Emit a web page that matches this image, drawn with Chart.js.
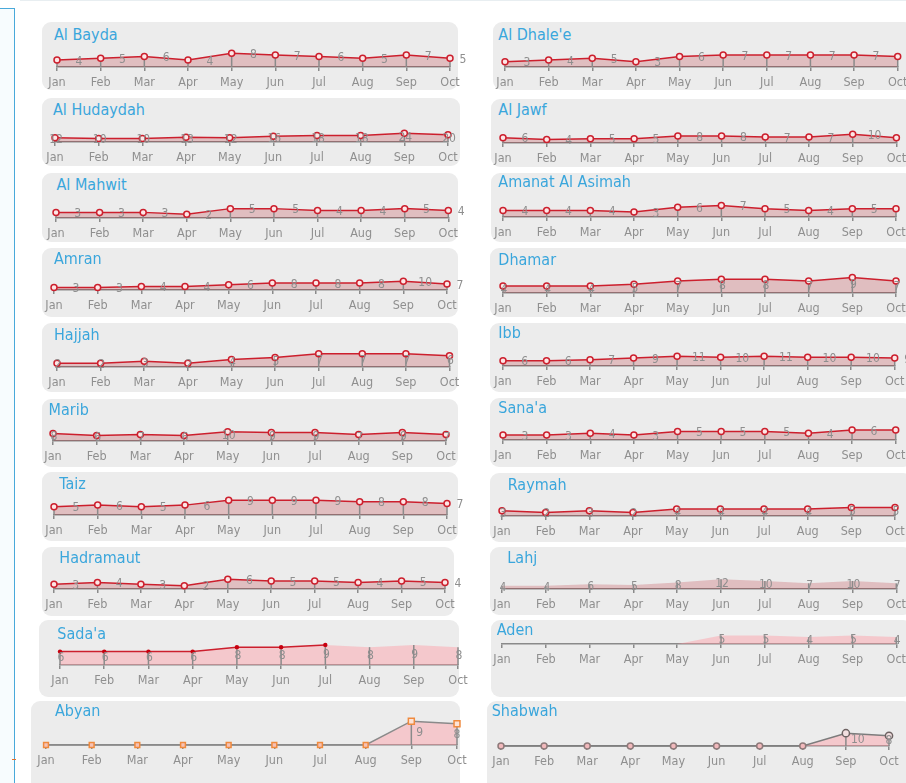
<!DOCTYPE html>
<html>
<head>
<meta charset="utf-8">
<script src="https://cdn.jsdelivr.net/npm/chart.js@4.4.1/dist/chart.umd.min.js"></script>
<style>
  html, body { margin: 0; padding: 0; background: #fff; width: 906px; height: 783px; overflow: hidden; }
  body { position: relative; font-family: 'DejaVu Sans Condensed', 'Liberation Sans Narrow', sans-serif; }
  .panel { position: absolute; background: #ececec; border-radius: 9px; }
  .title { position: absolute; color: #3aa6dc; font-size: 16px; line-height: 16px; white-space: nowrap; }
  canvas { position: absolute; }
  #side { position: absolute; left: -1px; top: 8px; width: 15px; height: 800px; background: #f7fcfe; border-top: 1px solid #49a9da; border-right: 1px solid #49a9da; }
  #topline { position: absolute; left: 20px; right: 0; top: 0; height: 1px; background: #e8eef1; }
  #mark { position: absolute; left: 12px; top: 759px; width: 4px; height: 1px; background: #e0702e; }
</style>
</head>
<body>
<div id="side"></div>
<div id="topline"></div>
<div id="mark"></div>
<script>
const FONT = "'DejaVu Sans Condensed', 'Liberation Sans Narrow', sans-serif";

// months on every panel
const months = ['Jan', 'Feb', 'Mar', 'Apr', 'May', 'Jun', 'Jul', 'Aug', 'Sep', 'Oct'];

// left column
const alBayda     = [4, 5, 6, 4, 8, 7, 6, 5, 7, 5];
const alHudaydah  = [12, 10, 10, 13, 12, 16, 18, 18, 24, 20];
const alMahwit    = [3, 3, 3, 2, 5, 5, 4, 4, 5, 4];
const amran       = [3, 3, 4, 4, 6, 8, 8, 8, 10, 7];
const hajjah      = [2, 2, 3, 2, 4, 5, 7, 7, 7, 6];
const marib       = [8, 6, 7, 6, 10, 9, 9, 7, 9, 7];
const taiz        = [5, 6, 5, 6, 9, 9, 9, 8, 8, 7];
const hadramaut   = [3, 4, 3, 2, 6, 5, 5, 4, 5, 4];
const sadaa       = [6, 6, 6, 6, 8, 8, 9, 8, 9, 8];
const abyan       = [0, 0, 0, 0, 0, 0, 0, 0, 9, 8];

// right column
const alDhalee    = [3, 4, 5, 3, 6, 7, 7, 7, 7, 6];
const alJawf      = [6, 4, 5, 5, 8, 8, 7, 7, 10, 6];
const amanat      = [4, 4, 4, 3, 6, 7, 5, 4, 5, 5];
const dhamar      = [4, 4, 4, 5, 7, 8, 8, 7, 9, 7];
const ibb         = [6, 6, 7, 9, 11, 10, 11, 10, 10, 9];
const sanaa       = [3, 3, 4, 3, 5, 5, 5, 4, 6, 6];
const raymah      = [3, 2, 3, 2, 4, 4, 4, 4, 5, 5];
const lahj        = [4, 4, 6, 5, 8, 12, 10, 7, 10, 7];
const aden        = [0, 0, 0, 0, 0, 5, 5, 4, 5, 4];
const shabwah     = [0, 0, 0, 0, 0, 0, 0, 0, 10, 8];

// the Sada'a line stops after July
const sadaaLineMonths = 7;

// layout: box = [left, top, width, height], axisY, x0 = Jan, x1 = Oct, title = [left, baseline]
const panels = [
  { name: 'Al Bayda', values: alBayda, yMax: 15.6, mode: 'mid', kind: 'std', box: [42, 22, 416, 68], axisY: 66, x0: 57, x1: 450, title: [54, 40] },
  { name: 'Al Hudaydah', values: alHudaydah, yMax: 75, mode: 'center', kind: 'std', box: [42, 98, 418, 68], axisY: 141, x0: 55, x1: 448, title: [53, 115] },
  { name: 'Al Mahwit', values: alMahwit, yMax: 14.4, mode: 'mid', kind: 'std', box: [42, 173, 416, 69], axisY: 216.5, x0: 55.7, x1: 448, title: [56.5, 190.5] },
  { name: 'Amran', values: amran, yMax: 31.3, mode: 'mid', kind: 'std', box: [42, 248, 416, 69], axisY: 289.3, x0: 54, x1: 447, title: [54, 264] },
  { name: 'Hajjah', values: hajjah, yMax: 14.3, mode: 'center', kind: 'std', box: [42, 322.5, 416, 69], axisY: 366, x0: 56.5, x1: 449, title: [54, 340] },
  { name: 'Marib', values: marib, yMax: 28.9, mode: 'center', kind: 'std', box: [42, 399, 416, 68], axisY: 440, x0: 53.3, x1: 446.3, title: [48.5, 415.5] },
  { name: 'Taiz', values: taiz, yMax: 16.4, mode: 'mid', kind: 'std', box: [42, 472.3, 416, 68.4], axisY: 514.3, x0: 54.3, x1: 447.3, title: [59.3, 489] },
  { name: 'Hadramaut', values: hadramaut, yMax: 16.8, mode: 'mid', kind: 'std', box: [42, 547.3, 412, 68.4], axisY: 588.3, x0: 54.3, x1: 445.3, title: [59.3, 563.3] },
  { name: "Sada'a", values: sadaa, yMax: 12.1, mode: 'center', kind: 'sadaa', box: [39.3, 620, 419.7, 76.7], axisY: 664.3, x0: 60, x1: 458, title: [57.3, 639] },
  { name: 'Abyan', values: abyan, yMax: 10.2, mode: 'right', kind: 'abyan', box: [30.7, 701, 429.3, 90], axisY: 744, x0: 45.7, x1: 456.7, title: [55, 716] },

  { name: "Al Dhale'e", values: alDhalee, yMax: 15.6, mode: 'mid', kind: 'std', box: [492.7, 22.3, 420, 67.7], axisY: 65.7, x0: 505, x1: 897.7, title: [498.3, 40] },
  { name: 'Al Jawf', values: alJawf, yMax: 31, mode: 'mid', kind: 'std', box: [491, 99, 421, 67.7], axisY: 141.7, x0: 503.3, x1: 896.7, title: [498.3, 115] },
  { name: 'Amanat Al Asimah', values: amanat, yMax: 16.5, mode: 'mid', kind: 'std', box: [490.5, 173, 422, 68.7], axisY: 215.7, x0: 503.3, x1: 896.3, title: [498.3, 187.3] },
  { name: 'Dhamar', values: dhamar, yMax: 15.6, mode: 'center', kind: 'std', box: [490, 248.3, 422, 68.4], axisY: 291.7, x0: 503, x1: 896, title: [498.3, 265.7] },
  { name: 'Ibb', values: ibb, yMax: 30.8, mode: 'mid', kind: 'std', box: [490, 322.7, 422, 69], axisY: 365.3, x0: 503.3, x1: 895, title: [498.3, 338.3] },
  { name: "Sana'a", values: sanaa, yMax: 16.1, mode: 'mid', kind: 'std', box: [490, 398.3, 422, 68.4], axisY: 439.3, x0: 503.3, x1: 896, title: [498.3, 413.3] },
  { name: 'Raymah', values: raymah, yMax: 15.7, mode: 'center', kind: 'std', box: [490, 473.3, 422, 68.4], axisY: 515, x0: 502.3, x1: 895.3, title: [507.7, 490] },
  { name: 'Lahj', values: lahj, yMax: 33.5, mode: 'center', kind: 'area', box: [490, 546.7, 422, 68.3], axisY: 588.3, x0: 501.7, x1: 896, title: [507.3, 563.3] },
  { name: 'Aden', values: aden, yMax: 15.7, mode: 'center', kind: 'pink', box: [491, 620, 421, 76.7], axisY: 643.3, x0: 501.7, x1: 896, title: [496.7, 635] },
  { name: 'Shabwah', values: shabwah, yMax: 21.1, mode: 'right', kind: 'shabwah', box: [487.3, 701, 425, 90], axisY: 745, x0: 501, x1: 889, title: [491.7, 716.7] }
];

const RED = '#cc1f2d';
const GREY = '#8a8a8a';
const STD_FILL = 'rgba(180, 20, 30, 0.21)';
const PINK_FILL = 'rgba(255, 150, 160, 0.42)';

const PAD_L = 16, PAD_R = 22, PAD_T = 10, H = 26, BELOW = 32;

// value numbers next to / on the points
const valueLabels = {
    id: 'valueLabels',
    afterDatasetsDraw(chart, args, opts) {
        const { ctx } = chart;
        const x = chart.scales.x, y = chart.scales.y;
        const vals = opts.values;
        const step = x.getPixelForValue(1) - x.getPixelForValue(0);
        const lastX = x.getPixelForValue(vals.length - 1);
        ctx.save();
        ctx.font = '12px ' + FONT;
        ctx.fillStyle = '#8e8e8e';
        ctx.textBaseline = 'middle';
        vals.forEach((v, i) => {
            if (!v) return;
            const px = x.getPixelForValue(i);
            const py = y.getPixelForValue(v);
            if (opts.mode === 'mid') {
                ctx.textAlign = 'center';
                ctx.fillText(v, Math.min(px + step / 2, lastX + 13), py + 1.5);
            } else if (opts.mode === 'center') {
                ctx.textAlign = 'center';
                ctx.fillText(v, px + 1, (py + y.bottom) / 2);
            } else {
                const last = i === vals.length - 1;
                ctx.textAlign = last ? 'center' : 'left';
                ctx.fillText(v, last ? px : px + 5, (py + y.bottom) / 2);
            }
        });
        ctx.restore();
    }
};

// grey stems from each point down to the axis
const dropLines = {
    id: 'dropLines',
    beforeDatasetDraw(chart, args, opts) {
        if (args.index !== 0) return;
        const { ctx } = chart;
        const x = chart.scales.x, y = chart.scales.y;
        ctx.save();
        ctx.strokeStyle = GREY;
        ctx.lineWidth = 1.5;
        opts.values.forEach((v, i) => {
            if (!v) return;
            const px = x.getPixelForValue(i);
            ctx.beginPath();
            ctx.moveTo(px, y.getPixelForValue(v));
            ctx.lineTo(px, y.bottom);
            ctx.stroke();
        });
        ctx.restore();
    }
};

function buildDatasets(p) {
    const base = { data: p.values, fill: 'origin', tension: 0, clip: false };
    switch (p.kind) {
        case 'std':
            return [{ ...base, borderColor: RED, borderWidth: 1.5, backgroundColor: STD_FILL,
                pointRadius: 3, pointBorderWidth: 1.5, pointBorderColor: RED, pointBackgroundColor: '#fde6e6' }];
        case 'area':
            return [{ ...base, borderWidth: 0, borderColor: 'rgba(0,0,0,0)', backgroundColor: STD_FILL, pointRadius: 0 }];
        case 'pink':
            return [{ ...base, borderWidth: 0, borderColor: 'rgba(0,0,0,0)', backgroundColor: PINK_FILL, pointRadius: 0 }];
        case 'sadaa':
            return [
                { data: p.values.map((v, i) => i < sadaaLineMonths ? v : null), fill: false, clip: false,
                  borderColor: RED, borderWidth: 1.5, pointRadius: 2.2, pointBorderWidth: 0,
                  pointBackgroundColor: '#c8000f' },
                { ...base, borderWidth: 0, borderColor: 'rgba(0,0,0,0)', backgroundColor: PINK_FILL, pointRadius: 0 }
            ];
        case 'abyan':
            return [{ ...base, borderColor: GREY, borderWidth: 1.5, backgroundColor: PINK_FILL,
                pointStyle: 'rect',
                pointRadius: ctx => ctx.raw > 0 ? 4.2 : 3.4,
                pointBorderWidth: 1.5, pointBorderColor: '#ef8a3e',
                pointBackgroundColor: ctx => ctx.raw > 0 ? '#fde3d6' : '#f6c2b6' }];
        case 'shabwah':
            return [{ ...base, borderColor: '#7c7c7c', borderWidth: 1.5, backgroundColor: PINK_FILL,
                pointRadius: ctx => ctx.raw > 0 ? 3.6 : 3,
                pointBorderWidth: 1.5,
                pointBorderColor: ctx => ctx.raw > 0 ? '#6e6262' : '#8e7a7a',
                pointBackgroundColor: ctx => ctx.raw > 0 ? '#f3dfe0' : '#f2b9bc' }];
    }
}

panels.forEach(p => {
    const [bl, bt, bw, bh] = p.box;
    const box = document.createElement('div');
    box.className = 'panel';
    Object.assign(box.style, { left: bl + 'px', top: bt + 'px', width: bw + 'px', height: bh + 'px' });
    document.body.appendChild(box);

    const title = document.createElement('div');
    title.className = 'title';
    title.textContent = p.name;
    title.style.left = p.title[0] + 'px';
    title.style.top = (p.title[1] - 13.5) + 'px';
    document.body.appendChild(title);

    const w = Math.ceil(p.x1 - p.x0 + PAD_L + PAD_R);
    const h = PAD_T + H + BELOW;
    const canvas = document.createElement('canvas');
    canvas.width = w;
    canvas.height = h;
    Object.assign(canvas.style, {
        left: (p.x0 - PAD_L) + 'px', top: (p.axisY - PAD_T - H) + 'px',
        width: w + 'px', height: h + 'px'
    });
    document.body.appendChild(canvas);

    const tickFont = { family: FONT, size: 12.5, lineHeight: 1.2 };
    const tickPad = 4.5;
    const scaleH = 4 + 2 * tickPad + tickFont.size * 1.2;

    new Chart(canvas.getContext('2d'), {
        type: 'line',
        data: { labels: months, datasets: buildDatasets(p) },
        options: {
            responsive: false,
            animation: false,
            events: [],
            layout: {
                padding: { left: PAD_L, right: w - PAD_L - (p.x1 - p.x0), top: PAD_T, bottom: BELOW - scaleH }
            },
            scales: {
                x: {
                    type: 'category',
                    offset: false,
                    grid: { display: true, drawOnChartArea: false, drawTicks: true, tickLength: 4,
                            tickColor: GREY, lineWidth: 1.5, color: GREY },
                    border: { display: true, color: GREY, width: 1.5 },
                    ticks: { color: '#8f8f8f', font: tickFont, padding: tickPad, maxRotation: 0, autoSkip: false }
                },
                y: { display: false, min: 0, max: p.yMax }
            },
            plugins: {
                legend: { display: false },
                tooltip: { enabled: false },
                valueLabels: { values: p.values, mode: p.mode },
                dropLines: { values: p.values }
            }
        },
        plugins: [dropLines, valueLabels]
    });
});
</script>
</body>
</html>
